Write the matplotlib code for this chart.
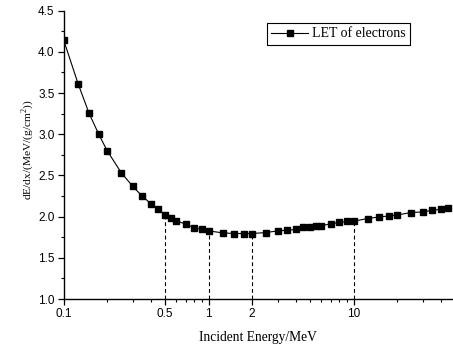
import matplotlib
matplotlib.use("Agg")
import matplotlib.pyplot as plt
from matplotlib.ticker import FixedLocator, NullFormatter, FixedFormatter, MultipleLocator
import numpy as np

energy = [0.1, 0.126, 0.15, 0.175, 0.2, 0.25, 0.3, 0.35, 0.4, 0.45, 0.5, 0.55, 0.6,
          0.7, 0.8, 0.9, 1.0, 1.25, 1.5, 1.75, 2.0, 2.5, 3.0, 3.5, 4.0, 4.5, 5.0,
          5.5, 6.0, 7.0, 8.0, 9.0, 10.0, 12.5, 15.0, 17.5, 20.0, 25.0, 30.0, 35.0,
          40.0, 45.0]
let = [4.15, 3.615, 3.255, 3.00, 2.80, 2.534, 2.368, 2.247, 2.156, 2.088, 2.025,
       1.984, 1.948, 1.908, 1.863, 1.844, 1.827, 1.803, 1.795, 1.795, 1.795, 1.807,
       1.827, 1.835, 1.844, 1.872, 1.876, 1.884, 1.892, 1.912, 1.929, 1.941, 1.944,
       1.977, 1.996, 2.008, 2.02, 2.05, 2.057, 2.077, 2.09, 2.105]
marked_energies = [0.5, 1.0, 2.0, 10.0]
x_major = [0.1, 0.5, 1, 2, 10]
x_major_labels = ["0.1", "0.5", "1", "2", "10"]
x_minor = [0.2, 0.3, 0.4, 0.6, 0.7, 0.8, 0.9, 3, 4, 5, 6, 7, 8, 9, 20, 30, 40]

W, H = 453, 349
fig = plt.figure(figsize=(W / 100, H / 100), dpi=100)
ax = fig.add_axes([63.5 / W, 1 - 299 / H, (W - 63.5) / W, (299 - 10.7) / H])

ax.plot(energy, let, color="black", lw=0.8, marker="s", ms=5.0,
        mfc="black", mec="black", label="LET of electrons", clip_on=True)

for e in marked_energies:
    v = let[energy.index(e)]
    ax.plot([e, e], [1.0, v], color="black", lw=0.8, ls=(0, (3.5, 2.5)))

ax.set_xscale("log")
ax.set_xlim(0.1, 48.5)
ax.set_ylim(1.0, 4.5)

ax.xaxis.set_major_locator(FixedLocator(x_major))
ax.xaxis.set_major_formatter(FixedFormatter(x_major_labels))
ax.xaxis.set_minor_locator(FixedLocator(x_minor))
ax.xaxis.set_minor_formatter(NullFormatter())
ax.yaxis.set_major_locator(MultipleLocator(0.5))
ax.yaxis.set_minor_locator(MultipleLocator(0.25))
ax.yaxis.set_major_formatter(matplotlib.ticker.FormatStrFormatter("%.1f"))

for s in ["top", "right"]:
    ax.spines[s].set_visible(False)
for s in ["left", "bottom"]:
    ax.spines[s].set_linewidth(1.0)

ax.tick_params(which="major", direction="out", length=4, width=0.9,
               labelsize=8.5, pad=2.5)
ax.tick_params(which="minor", direction="out", length=2.5, width=0.8)
for lbl in ax.get_xticklabels() + ax.get_yticklabels():
    lbl.set_fontfamily("Liberation Sans")

fig.text(258 / W, 1 - 337 / H, "Incident Energy/MeV", family="Liberation Serif",
         fontsize=9.75, ha="center", va="center")
fig.text(28 / W, 1 - 150 / H, r"dE/dx/(MeV/(g/cm$^{\mathregular{2}}$))",
         family="Liberation Serif", fontsize=8.2, ha="center", va="center",
         rotation=90)

leg = ax.legend(loc="upper left",
                bbox_to_anchor=((266.7 - 63.5) / (W - 63.5), 1 - (23.3 - 10.7) / (299 - 10.7)),
                frameon=True, fancybox=False, edgecolor="black", framealpha=1,
                prop={"family": "Liberation Serif", "size": 10},
                handlelength=2.7, handletextpad=0.25, borderpad=0.3,
                borderaxespad=0)
leg.get_frame().set_linewidth(0.8)

fig.savefig("out.png", dpi=100)
